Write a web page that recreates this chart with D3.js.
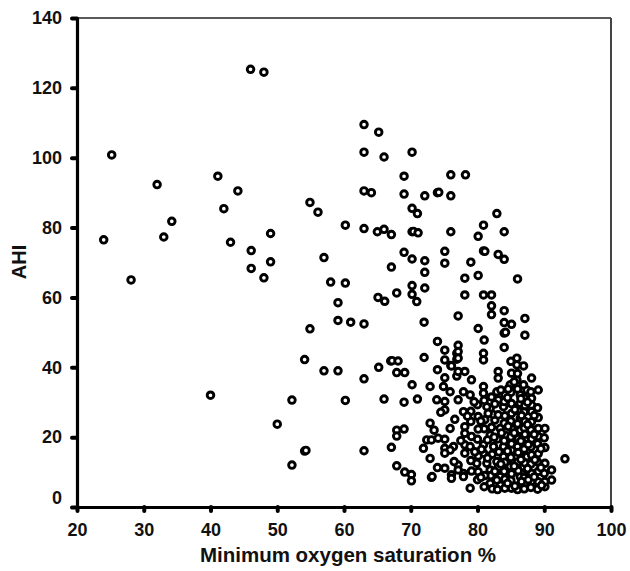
<!DOCTYPE html>
<html>
<head>
<meta charset="utf-8">
<script src="https://cdn.jsdelivr.net/npm/d3@7"></script>
<style>
  body { margin: 0; background: #fff; }
  svg { display: block; }
  text { font-family: "Liberation Sans", Arial, sans-serif; font-weight: bold; fill: #111; }
</style>
</head>
<body>
<svg class="chart" width="630" height="571"></svg>
<script>
/* Tick labels */
var xTicks = [20, 30, 40, 50, 60, 70, 80, 90, 100];
var yTicks = [0, 20, 40, 60, 80, 100, 120, 140];

/* Data: minimum oxygen saturation (%) and AHI */
var minO2 = [
  24, 25.2, 28.1, 32, 33, 34.2, 41.1, 42, 44.1, 43, 46.1, 46.1, 46, 48, 48, 49, 49,
  40, 50, 52.2, 52.2, 54.9, 54.1, 54.1, 54.3, 54.9, 56.1, 57, 58, 60.2, 59.1, 59.1,
  61, 63, 60.2, 57, 59.1, 60.2, 63, 63,
  63, 65.2, 63, 66, 70.2, 69, 76, 78.2, 63, 64.1, 69, 72.1, 74, 74.2, 76, 70.2, 71,
  82.9, 63, 65, 66, 67.1, 70.2, 70.4, 71.1, 76, 80.9, 80.1, 84,
  69, 70.2, 72.1, 75.1, 75.1, 72.1, 67.1, 79, 80.9, 81.1, 83.1, 84, 80.1, 78.1, 86,
  70.2, 72.1, 67.9, 70.2, 65.1, 66.1, 70.9, 72,
  78.1, 80.9, 82.1, 82.1, 82.1, 84, 77.1, 87.1, 80.1, 84, 85.1, 84, 84.2, 87.1, 81,
  77.1, 84,
  74, 75.1, 76.9, 75.1, 76.9, 72, 67, 67.2, 68.1, 76, 65.2, 67.9, 69.1, 74, 70.2,
  72.9, 75.1, 76.9, 66, 69, 71,
  67.9, 69, 67.9, 67.1, 67.9, 69.1, 70.1, 70.1,
  77.1, 77.1, 76.1, 80.9, 80.9, 85.9, 85.9, 83.1, 83.1, 85.1, 84.9, 77.1, 78.1, 79.1,
  74.9, 75.9, 77.9, 80.9, 80.9, 73.9, 75.1, 77.1, 78.9, 75.1, 77.9, 80.1, 81.9, 83.1,
  83.9, 85.1, 86.4, 86.4, 82.6, 72.9, 75.9, 78.1, 78.1, 83.4, 81.9, 86.4, 72.4, 73.1,
  74.1, 75.1, 71.9, 72.9, 75.1, 76.4, 75.9, 78.1, 78.1, 78.9, 80.9, 80.9, 82.4, 83.9,
  83.9, 85.1, 86.9, 86.9, 73.1, 73.2, 75.1, 76.1, 77.1, 77.9, 78.9, 80.1, 81.9, 81.9,
  83.4, 83.4, 84.9, 86.4, 86.4, 87.4, 79.9, 81.4, 82.9, 84.9, 87.4, 81.4, 82.9, 84.1,
  86.4, 87.4, 75.1, 77.1, 76.1, 77.9,
  86.9, 85.9, 86.9, 88.1, 89.1, 88.1, 88.1, 89.1, 90.1, 89.1, 88.1, 93.1, 90.1, 91.1,
  91.1, 90.1, 89.1, 88.1, 86.9, 86.9, 85.1, 84.1, 82.9,
  82.1, 82.3, 82.1, 82.2, 82.0, 82.2, 83.1, 83.0, 83.2, 83.1, 83.0,
  84.0, 84.1, 84.0, 84.2, 84.0, 84.1, 84.0, 84.1,
  85.0, 85.1, 85.0, 85.2, 85.0, 85.1, 85.0, 85.1, 85.0,
  86.0, 86.1, 86.0, 86.1, 86.0, 86.1, 86.0, 86.1, 86.0,
  87.0, 87.1, 87.0, 87.1, 87.0, 87.1, 87.0, 87.1, 87.0, 87.1, 87.0,
  88.0, 88.1, 88.0, 88.1, 88.0, 88.1, 88.0, 88.1, 88.0,
  89.0, 89.1, 89.0, 89.1, 89.0, 89.1, 89.0,
  90.0, 90.1, 90.0, 90.1,
  81.0, 81.1, 81.0, 81.1, 81.0,
  80.0, 80.1, 80.0, 80.1, 80.0,
  79.0, 79.0, 79.1, 79.0, 79.1,
  83.5, 83.6, 83.5, 84.5, 84.6, 84.5, 84.5, 85.5, 85.6, 85.5, 85.5, 85.6,
  86.5, 86.6, 86.5, 86.5, 86.6, 87.5, 87.5, 87.6, 87.5, 87.6,
  88.5, 88.5, 88.6, 88.5, 89.5, 89.5, 89.6, 82.6, 82.5, 82.6,
  81.6, 81.5, 81.5, 80.5, 80.6, 79.5, 79.6, 78.5, 76.6, 77.5,
  74.5, 73.5, 76.5, 74.0, 80.5, 84.6, 86.0, 85.0
];
var ahi = [
  76.5, 100.8, 65, 92.3, 77.3, 81.8, 94.7, 85.4, 90.5, 75.8, 73.4, 68.3, 125.3, 124.5, 65.6, 70.2, 78.3,
  32, 23.7, 30.6, 12, 51, 42.2, 16, 16.2, 87.2, 84.4, 71.4, 64.4, 64.1, 58.5, 53.4,
  52.9, 52.4, 80.7, 39, 39, 30.5, 36.7, 16.1,
  109.5, 107.3, 101.6, 100.2, 101.6, 94.7, 95.1, 95.1, 90.5, 90, 89.6, 89.1, 90, 90.1, 89.1, 85.5, 84,
  84, 79.7, 78.8, 79.5, 78, 78.8, 78.9, 78.5, 78.8, 80.7, 77.5, 78.8,
  72.9, 71, 70.5, 73.2, 69.8, 67.2, 68.7, 70.1, 73.3, 73.2, 72.3, 70.9, 66.3, 65.5, 65.3,
  63.4, 62.7, 61.3, 60.9, 60, 58.9, 58.8, 52.9,
  60.7, 60.7, 60.7, 57.6, 55.1, 56.2, 54.7, 54, 51.1, 52.8, 52.3, 49.8, 50, 49.2, 47.8,
  46.3, 45.7,
  47.4, 44.9, 44, 42.1, 42.3, 42.8, 41.8, 41.9, 41.8, 40.5, 40, 38.5, 38.5, 39.3, 35,
  34.5, 37, 37.5, 30.9, 30, 30.9,
  22, 22.3, 20.3, 17.1, 11.8, 10, 9.3, 7.5,
  44.5, 42.6, 40.4, 44, 42.1, 42.6, 40.7, 38.8, 36.9, 38.3, 35, 38.8, 38.8, 36.4,
  34.5, 33, 33, 34.5, 32.6, 30.7, 30.2, 30.7, 32.1, 27.8, 27.3, 25.9, 28.3, 30.7,
  28.7, 26.8, 29.7, 25.4, 24.9, 24, 22.5, 23, 21.1, 22.5, 20.6, 22, 19.2, 19.2,
  19.7, 19.4, 16.8, 13.9, 16.8, 17.3, 16.3, 17.8, 15.4, 17.3, 17.8, 15.4, 17.3, 17.3,
  14.4, 16.3, 18.2, 14.4, 8.5, 8.7, 11.1, 9.2, 12, 9.6, 5.4, 10.1, 6.8, 10.6,
  6.3, 8.7, 6.3, 6.3, 8.7, 10.6, 12.5, 12.5, 13, 11.6, 14.4, 28.7, 33, 32.1,
  32.1, 33.5, 15.4, 10.6, 8.2, 8.7,
  40.4, 36.4, 35, 36.9, 33.5, 31.1, 27.3, 22.5, 22.5, 20.2, 24.4, 13.8, 12.5, 10.6,
  7.7, 5.8, 7.2, 9.6, 5.8, 11.5, 5.4, 5.4, 7.7,
  31.5, 26.5, 22.8, 15.1, 9.0, 5.2, 26.4, 19.5, 15.8, 11.3, 5.0,
  30.2, 26.1, 24.0, 20.5, 19.0, 12.8, 10.2, 8.0,
  32.8, 29.6, 24.6, 22.3, 20.1, 18.1, 14.2, 9.5, 7.6,
  33.8, 27.5, 23.8, 19.6, 17.3, 15.6, 12.9, 10.4, 5.0,
  31.2, 29.0, 27.2, 24.5, 22.6, 20.8, 16.6, 12.6, 8.4, 6.9, 5.2,
  33.0, 29.2, 22.1, 19.5, 17.2, 14.9, 12.3, 7.4, 5.6,
  28.4, 25.6, 18.1, 15.3, 12.9, 10.2, 5.1,
  19.8, 17.0, 9.6, 7.3,
  30.5, 25.0, 22.4, 9.0, 5.8,
  29.3, 22.3, 19.4, 14.6, 7.8,
  27.4, 24.5, 20.2, 13.3, 10.3,
  33.5, 21.2, 12.3, 31.3, 23.1, 16.0, 6.8, 35.8, 27.9, 21.2, 11.7, 6.0,
  31.0, 26.2, 18.9, 13.6, 7.3, 30.0, 23.6, 17.9, 11.0, 7.8,
  26.2, 20.8, 13.5, 8.6, 16.7, 11.3, 6.2, 29.5, 20.0, 10.2,
  26.8, 19.2, 14.0, 24.6, 16.5, 30.1, 15.8, 26.0, 25.1, 19.0,
  27.1, 22.0, 13.0, 11.3, 8.5, 33.8, 38.2, 41.7
];

var points = minO2.map(function (d, i) { return { x: d, y: ahi[i] }; });

var svg = d3.select('.chart');

/* Scales */
var xScale = d3.scaleLinear().domain([20, 100]).range([77, 611]);
var yScale = d3.scaleLinear().domain([0, 140]).range([507, 18]);

/* Frame: thin top and right lines */
svg.append('line')
  .attr('x1', xScale(20)).attr('x2', xScale(100))
  .attr('y1', yScale(140)).attr('y2', yScale(140))
  .attr('stroke', '#222').attr('stroke-width', 1.5);
svg.append('line')
  .attr('x1', xScale(100)).attr('x2', xScale(100))
  .attr('y1', yScale(140)).attr('y2', yScale(0))
  .attr('stroke', '#444').attr('stroke-width', 2);

/* Points */
svg.append('g')
  .selectAll('circle')
  .data(points)
  .join('circle')
  .attr('cx', function (d) { return xScale(d.x); })
  .attr('cy', function (d) { return yScale(d.y); })
  .attr('r', 3.3)
  .attr('fill', '#fff')
  .attr('stroke', '#000')
  .attr('stroke-width', 2.9);

/* Axes */
var xAxis = d3.axisBottom(xScale).tickValues(xTicks).tickSize(4).tickSizeOuter(0).tickPadding(12);
var yAxis = d3.axisLeft(yScale).tickValues(yTicks).tickSize(5).tickSizeOuter(0).tickPadding(10);

var gx = svg.append('g')
  .attr('transform', 'translate(0,' + yScale(0) + ')')
  .call(xAxis);
var gy = svg.append('g')
  .attr('transform', 'translate(' + xScale(20) + ',0)')
  .call(yAxis);

[gx, gy].forEach(function (g) {
  g.select('.domain').attr('stroke', '#000').attr('stroke-width', 3.2);
  g.selectAll('.tick line').attr('stroke', '#000').attr('stroke-width', 4).attr('stroke-linecap', 'round');
  g.selectAll('.tick text')
    .style('font-family', '"Liberation Sans", Arial, sans-serif')
    .style('font-weight', 'bold')
    .style('font-size', '18px')
    .attr('fill', '#111');
});

/* the 0 label sits a little above its tick in the original */
gy.selectAll('.tick text').filter(function (d) { return d === 0; }).attr('y', -9);

/* Axis titles */
svg.append('text')
  .attr('x', 348)
  .attr('y', 562)
  .attr('text-anchor', 'middle')
  .style('font-size', '20.5px')
  .text('Minimum oxygen saturation %');

svg.append('text')
  .attr('transform', 'translate(26,262) rotate(-90)')
  .attr('text-anchor', 'middle')
  .style('font-size', '20px')
  .text('AHI');
</script>
</body>
</html>
